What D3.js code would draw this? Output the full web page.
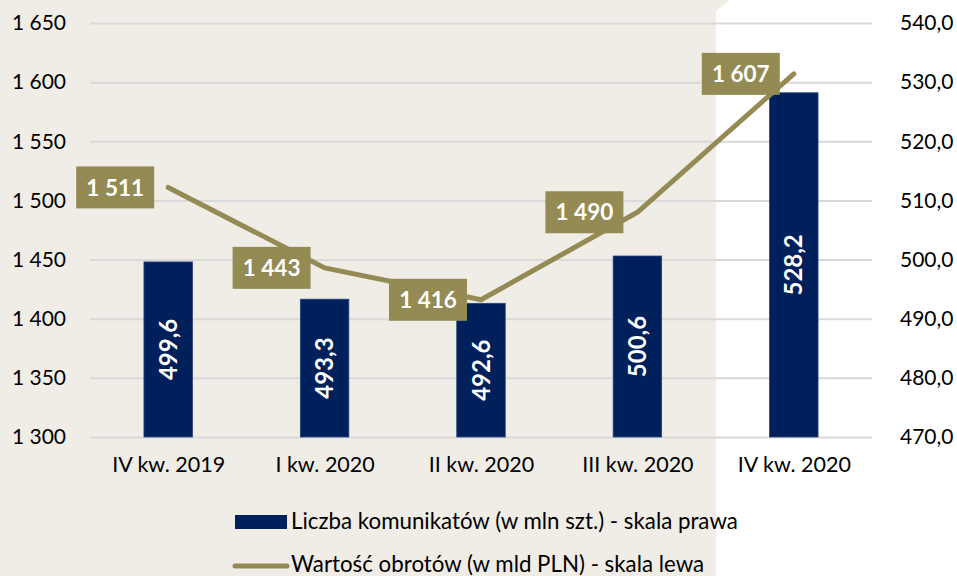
<!DOCTYPE html>
<html><head><meta charset="utf-8">
<script src="https://cdn.jsdelivr.net/npm/d3@7"></script>
<style>
html,body{margin:0;padding:0;background:#fff;}
svg{display:block;font-family:Lato, "Noto Sans", sans-serif;}
</style></head>
<body>
<svg id="c" width="957" height="576"></svg>
<script>
const categories = ["IV kw. 2019","I kw. 2020","II kw. 2020","III kw. 2020","IV kw. 2020"];
const messages = [499.6, 493.3, 492.6, 500.6, 528.2];      // right scale, bars
const turnover = [1511, 1443, 1416, 1490, 1607];           // left scale, line
const leftTicks = [1300,1350,1400,1450,1500,1550,1600,1650];
const rightTicks = [470,480,490,500,510,520,530,540];
const legendLabels = ["Liczba komunikatów (w mln szt.) - skala prawa","Wartość obrotów (w mld PLN) - skala lewa"];

const svg = d3.select("#c");
const beige = "#f0ece6", navy = "#00205b", olive = "#948a54", grid = "#d9d9d9";

svg.append("path")
  .attr("d", "M0,0 L730,0 L716,11 L716,576 L0,576 Z")
  .attr("fill", beige);

const x0 = 90, x1 = 872, yTop = 23, yBot = 437;
const x = d3.scaleBand().domain(categories).range([x0, x1]).paddingInner(0.69).paddingOuter(0.345);
const xc = d3.scalePoint().domain(categories).range([x0, x1]).padding(0.5);
const yL = d3.scaleLinear().domain([1300, 1650]).range([yBot, yTop]);
const yR = d3.scaleLinear().domain([470, 540]).range([yBot, yTop]);

const fmtL = v => d3.format(",")(v).replace(/,/g, " ");
const fmtR = v => d3.format(".1f")(v).replace(".", ",");

// gridlines + left axis
const gAxisL = svg.append("g").attr("transform", `translate(${x0},0)`)
  .call(d3.axisLeft(yL).tickValues(leftTicks).tickSize(-(x1 - x0)).tickPadding(24).tickFormat(fmtL));
gAxisL.select(".domain").remove();
gAxisL.selectAll(".tick line").attr("stroke", grid).attr("stroke-width", 2);
gAxisL.selectAll(".tick text").attr("fill", "#000").style("font-size", "21px").style("font-family", "Lato");

const gAxisR = svg.append("g").attr("transform", `translate(${x1},0)`)
  .call(d3.axisRight(yR).tickValues(rightTicks).tickSize(0).tickPadding(28).tickFormat(fmtR));
gAxisR.select(".domain").remove();
gAxisR.selectAll(".tick text").attr("fill", "#000").style("font-size", "21px").style("font-family", "Lato");

const gX = svg.append("g").attr("transform", `translate(0,${yBot})`)
  .call(d3.axisBottom(xc).tickSize(0).tickPadding(20));
gX.select(".domain").remove();
gX.selectAll(".tick text").attr("fill", "#000").style("font-size", "21.5px").style("font-family", "Lato");

// bars
svg.append("g").selectAll("rect").data(messages).join("rect")
  .attr("x", (d, i) => x(categories[i]))
  .attr("width", x.bandwidth())
  .attr("y", d => yR(d))
  .attr("height", d => yBot - yR(d))
  .attr("fill", navy)
  .attr("stroke", "#26437c").attr("stroke-width", 0.8);

svg.append("g").selectAll("text").data(messages).join("text")
  .attr("transform", (d, i) => `translate(${xc(categories[i])},${(yR(d) + yBot) / 2}) rotate(-90)`)
  .attr("text-anchor", "middle").attr("dy", "0.36em")
  .attr("fill", "#fff").style("font-weight", "bold").style("font-size", "24px")
  .text(d => fmtR(d));

// line
const line = d3.line().x((d, i) => xc(categories[i])).y(d => yL(d));
svg.append("path").datum(turnover)
  .attr("d", line).attr("fill", "none").attr("stroke", olive)
  .attr("stroke-width", 5).attr("stroke-linecap", "round").attr("stroke-linejoin", "round");

// line labels
const lbl = svg.append("g").selectAll("g").data(turnover).join("g")
  .attr("transform", (d, i) => `translate(${xc(categories[i]) - 14},${yL(d)})`);
lbl.append("rect").attr("x", -78).attr("y", -21).attr("width", 78).attr("height", 42).attr("fill", olive);
lbl.append("text").attr("x", -39).attr("dy", "0.36em").attr("text-anchor", "middle")
  .attr("fill", "#fff").style("font-weight", "bold").style("font-size", "22.5px")
  .text(d => fmtL(d));

// legend
const lg = svg.append("g");
lg.append("rect").attr("x", 235).attr("y", 515).attr("width", 52).attr("height", 14).attr("fill", navy);
lg.append("text").attr("x", 291).attr("y", 529).style("font-size", "22.3px").attr("fill", "#000").text(legendLabels[0]);
lg.append("line").attr("x1", 235).attr("x2", 287).attr("y1", 566).attr("y2", 566)
  .attr("stroke", olive).attr("stroke-width", 5).attr("stroke-linecap", "round");
lg.append("text").attr("x", 291).attr("y", 572).style("font-size", "22.3px").attr("fill", "#000").text(legendLabels[1]);
</script>
</body></html>
